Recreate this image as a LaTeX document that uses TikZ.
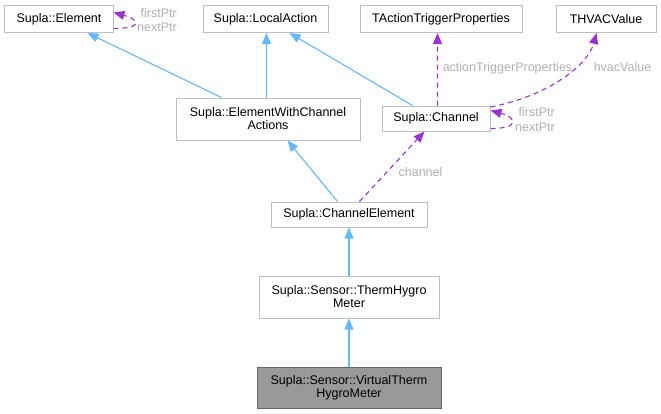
\documentclass[tikz,border=0pt]{standalone}
\usepackage{fontspec}
\setmainfont{Liberation Sans}
\usetikzlibrary{arrows.meta,calc}
\definecolor{boxline}{HTML}{BFBFBF}
\definecolor{hiline}{HTML}{666666}
\definecolor{hifill}{HTML}{999999}
\definecolor{inhblue}{HTML}{63B8FF}
\definecolor{usepurple}{HTML}{9A32CD}
\definecolor{lblgrey}{HTML}{B0B0B0}
\tikzset{
  cls/.style={draw=boxline, line width=1bp, fill=white, inner sep=0pt, align=center,
    font=\fontsize{12.5bp}{13bp}\selectfont, text=black},
  hicls/.style={cls, draw=hiline, fill=hifill},
  inh/.style={draw=inhblue, line width=1.1bp, -{Triangle[length=11bp,width=9bp]}},
  usage/.style={draw=usepurple, line width=1.1bp, dash pattern=on 5bp off 4bp,
    -{Triangle[length=11bp,width=9bp]}},
  lbl/.style={text=lblgrey, inner sep=0pt, font=\fontsize{12.5bp}{13bp}\selectfont}
}
\begin{document}
\begin{tikzpicture}[x=1bp,y=-1bp]
\useasboundingbox (0,0) rectangle (661,413);
% classes
\node[cls, minimum width=108bp, minimum height=27bp] (elem) at (59,19) {Supla::Element};
\node[cls, minimum width=125bp, minimum height=27bp] (lact) at (265.5,19) {Supla::LocalAction};
\node[cls, minimum width=162bp, minimum height=27bp] (tact) at (441,19) {TActionTriggerProperties};
\node[cls, minimum width=100bp, minimum height=27bp] (thvac) at (606,19) {THVACValue};
\node[cls, minimum width=184bp, minimum height=42bp] (ewca) at (268,119) {Supla::ElementWithChannel\\Actions};
\node[cls, minimum width=108bp, minimum height=25bp] (chan) at (436,118.5) {Supla::Channel};
\node[cls, minimum width=156bp, minimum height=25bp] (chel) at (349,214.5) {Supla::ChannelElement};
\node[cls, minimum width=180bp, minimum height=42bp] (thg) at (349,297) {Supla::Sensor::ThermHygro\\Meter};
\node[hicls, minimum width=184bp, minimum height=41bp] (virt) at (349,387.5) {Supla::Sensor::VirtualTherm\\HygroMeter};
% inheritance
\draw[inh] ($(ewca.north west)+(46,0)$) -- ($(elem.south west)+(83,0)$);
\draw[inh] ($(ewca.north west)+(91,0)$) -- ($(lact.south west)+(64,0)$);
\draw[inh] ($(chan.north west)+(31,0)$) -- ($(lact.south west)+(87,0)$);
\draw[inh] ($(chel.north west)+(67,0)$) -- ($(ewca.south west)+(112,0)$);
\draw[inh] (thg) -- (chel);
\draw[inh] (virt) -- (thg);
% usage
\draw[usage] ($(chel.north west)+(89,0)$) -- ($(chan.south west)+(43,0)$);
\draw[usage] ($(chan.north west)+(56,0)$) -- ($(tact.south west)+(78,0)$);
\draw[usage] ($(chan.north east)+(0,1.5)$) .. controls +(62,-12) and +(-8,30) .. ($(thvac.south west)+(41,0)$);
\draw[usage] ($(elem.south east)+(0,-4.5)$) .. controls +(30,0) and +(26,7) .. ($(elem.north east)+(0,7.5)$);
\draw[usage] ($(chan.south east)+(0,-3)$) .. controls +(30,0) and +(26,7) .. ($(chan.north east)+(0,5)$);
% labels
\node[lbl] (lchannel) at (420.5,172) {channel};
\node[lbl] (latp) at (507.5,68) {actionTriggerProperties};
\node[lbl] (lhvac) at (622.5,67) {hvacValue};
\node[lbl, anchor=east] (lfp1) at (177,13) {firstPtr};
\node[lbl, anchor=east] (lnp1) at (177,27) {nextPtr};
\node[lbl, anchor=east] (lfp2) at (555,112) {firstPtr};
\node[lbl, anchor=east] (lnp2) at (555,127) {nextPtr};
\end{tikzpicture}
\end{document}
